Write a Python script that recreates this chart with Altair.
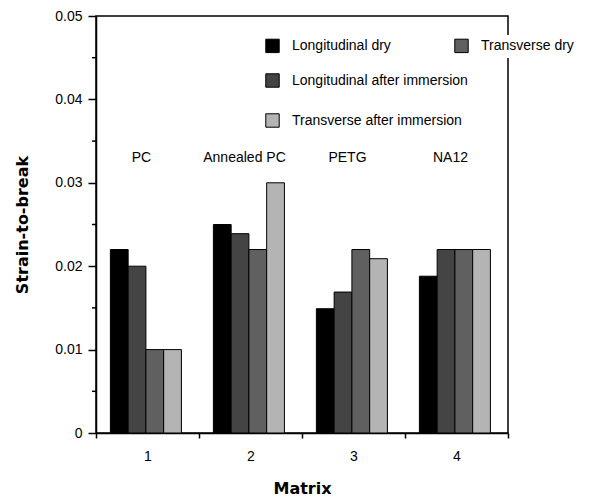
import altair as alt
import pandas as pd

matrices = ["1", "2", "3", "4"]
matrix_names = ["PC", "Annealed PC", "PETG", "NA12"]
series = ["Longitudinal dry", "Longitudinal after immersion",
          "Transverse dry", "Transverse after immersion"]
long_dry = [0.022, 0.025, 0.0149, 0.0188]
long_after = [0.020, 0.0239, 0.0169, 0.022]
trans_dry = [0.010, 0.022, 0.022, 0.022]
trans_after = [0.010, 0.030, 0.0209, 0.022]
y_major = [0, 0.01, 0.02, 0.03, 0.04, 0.05]
y_minor = [0.005, 0.015, 0.025, 0.035, 0.045]
fills = {"Longitudinal dry": "#000000",
         "Longitudinal after immersion": "#444444",
         "Transverse dry": "#606060",
         "Transverse after immersion": "#b4b4b4"}
legend_row1 = ["Longitudinal dry", "Transverse dry"]
legend_rows23 = ["Longitudinal after immersion", "Transverse after immersion"]

rows = []
for s, vals in zip(series, [long_dry, long_after, trans_dry, trans_after]):
    for m, v in zip(matrices, vals):
        rows.append({"matrix": m, "series": s, "value": v})
df = pd.DataFrame(rows)
lab_df = pd.DataFrame({"matrix": matrices, "name": matrix_names})
minor_df = pd.DataFrame({"t": y_minor})

FONT = "Liberation Sans"

bars = alt.Chart(df).mark_bar(stroke="black", strokeWidth=1).encode(
    x=alt.X("matrix:N", sort=matrices,
            scale=alt.Scale(paddingInner=0, paddingOuter=0),
            axis=alt.Axis(title="Matrix", labelAngle=0, tickBand="extent",
                          tickSize=5, labelPadding=11, titlePadding=17,
                          labelFontSize=14)),
    xOffset=alt.XOffset("series:N", sort=series,
                        scale=alt.Scale(domain=series, paddingInner=0,
                                        paddingOuter=0.9, align=0.45)),
    y=alt.Y("value:Q", scale=alt.Scale(domain=[0, 0.05]),
            axis=alt.Axis(values=y_major, format="~g", title="Strain-to-break",
                          tickSize=8, labelPadding=6, titlePadding=24,
                          labelFontSize=14, orient="left")),
    fill=alt.Fill("series:N", scale=alt.Scale(domain=series,
                                              range=[fills[s] for s in series]),
                  legend=None),
)

minor = alt.Chart(minor_df).mark_rule(color="black", strokeWidth=1.5).encode(
    y=alt.Y("t:Q"),
    x=alt.value(-4),
    x2=alt.value(0),
)

labels = alt.Chart(lab_df).mark_text(fontSize=14, font=FONT, baseline="middle",
                                     dx=-6, color="black").encode(
    x=alt.X("matrix:N", sort=matrices),
    y=alt.YDatum(0.033),
    text="name:N",
)

def legend_layer(dom, lx, ly, cols, bg):
    return alt.Chart(df).transform_filter("datum.value < 0").mark_square(
        filled=True, opacity=1).encode(
        fill=alt.Fill("series:N",
                      scale=alt.Scale(domain=dom, range=[fills[s] for s in dom]),
                      legend=alt.Legend(orient="none", legendX=lx, legendY=ly,
                                        columns=cols, columnPadding=61,
                                        rowPadding=21, title=None,
                                        symbolType="square", symbolSize=180,
                                        symbolOpacity=1, fillColor=bg,
                                        labelFontSize=14, labelFont=FONT,
                                        labelColor="black", labelOffset=12,
                                        symbolStrokeColor="black",
                                        symbolStrokeWidth=1, padding=3,
                                        labelLimit=300)),
    )

legB = legend_layer(legend_row1, 166, 19, 2, "white")
legC = legend_layer(legend_rows23, 166, 54, 1, "transparent")

chart = alt.layer(bars, minor, labels, legB, legC).resolve_scale(
    fill="independent").properties(
    width=412, height=417, autosize="none",
    padding={"left": 88, "top": 8, "right": 86, "bottom": 80},
).configure_view(stroke="black", strokeWidth=1.5).configure_axis(
    domainColor="black", domainWidth=1.5, tickColor="black", tickWidth=1.5,
    labelColor="black", labelFont=FONT, titleFont="DejaVu Sans",
    titleFontWeight="bold", titleFontSize=16, titleColor="black", grid=False,
)

chart.save("out.html", embed_options={"renderer": "svg", "actions": False})
